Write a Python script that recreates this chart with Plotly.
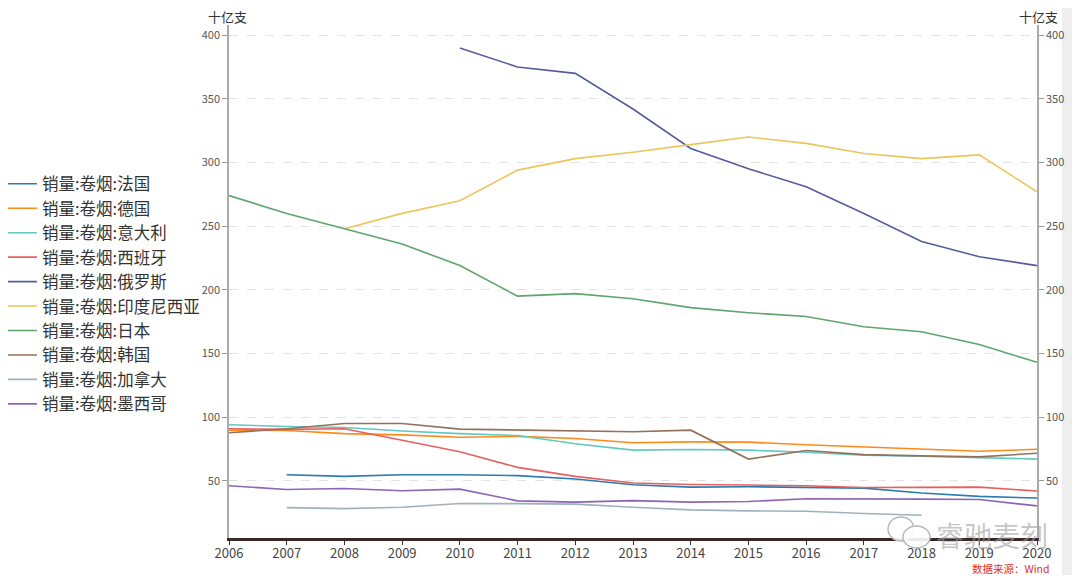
import plotly.graph_objects as go

years = list(range(2006, 2021))

france    = [None, 54.7, 53.4, 54.7, 54.7, 54.0, 51.3, 46.8, 45.0, 45.3, 44.5, 44.2, 40.3, 37.7, 36.4]
germany   = [89.7, 89.5, 87.0, 86.0, 84.2, 84.8, 83.2, 79.8, 80.5, 80.3, 78.2, 76.6, 75.0, 73.1, 74.7]
italy     = [94.0, 92.6, 91.8, 89.0, 87.0, 85.5, 79.0, 74.0, 74.5, 74.0, 72.4, 70.0, 69.2, 68.2, 67.0]
spain     = [90.8, 90.3, 90.8, 81.6, 72.7, 60.5, 53.4, 48.2, 47.0, 46.6, 46.0, 44.7, 44.7, 45.0, 41.9]
russia    = [None, None, None, None, 390, 375, 370, 342, 311, 295, 281, 260, 238, 226, 219]
indonesia = [None, None, 248, 260, 270, 294, 303, 308, 314, 320, 315, 307, 303, 306, 277]
japan     = [274, 260, 248, 236, 219, 195, 197, 193, 186, 182, 179, 171, 167, 157, 143]
korea     = [87.7, 90.8, 95.0, 95.0, 90.5, 90.0, 89.0, 88.5, 89.7, 67.0, 73.7, 70.5, 69.5, 68.7, 71.6]
canada    = [None, 28.9, 28.1, 29.2, 32.1, 32.0, 31.6, 29.2, 27.1, 26.3, 26.0, 24.2, 22.9, None, None]
mexico    = [46.0, 43.1, 43.9, 42.1, 43.4, 34.2, 33.2, 34.4, 33.2, 33.7, 35.8, 35.8, 35.5, 35.2, 30.2]

names = ["销量:卷烟:法国", "销量:卷烟:德国", "销量:卷烟:意大利", "销量:卷烟:西班牙", "销量:卷烟:俄罗斯",
         "销量:卷烟:印度尼西亚", "销量:卷烟:日本", "销量:卷烟:韩国", "销量:卷烟:加拿大", "销量:卷烟:墨西哥"]
series = [france, germany, italy, spain, russia, indonesia, japan, korea, canada, mexico]
colors = ["#2b7bb1", "#ff8a1c", "#62c8c2", "#e8605e", "#535d9a", "#e9c75a", "#5ea56e", "#95705a", "#9fb1bd", "#8e64b6"]

FONT = "Noto Sans CJK SC"

fig = go.Figure()
for i, (n, s, c) in enumerate(zip(names, series, colors)):
    fig.add_trace(go.Scatter(x=years, y=s, name=n, mode="lines",
                             line=dict(color=c, width=1.6), connectgaps=False))
# mirror trace for the right axis (invisible)
fig.add_trace(go.Scatter(x=years, y=japan, yaxis="y2", mode="lines", line=dict(width=0),
                         opacity=0, showlegend=False, hoverinfo="skip"))

yr = [5, 408]
tickvals = [50, 100, 150, 200, 250, 300, 350, 400]
axis_common = dict(range=yr, tickvals=tickvals, ticks="outside", ticklen=5, tickcolor="#999",
                   showline=True, linecolor="#aaa", linewidth=1.5,
                   tickfont=dict(family=FONT, size=11, color="#555"), zeroline=False)

fig.update_layout(
    width=1064, height=567,
    paper_bgcolor="white", plot_bgcolor="white",
    margin=dict(l=221, r=35, t=17, b=37, autoexpand=False),
    font=dict(family=FONT, color="#333"),
    xaxis=dict(range=[2006, 2020], tickvals=years, ticks="outside", ticklen=4, tickcolor="#333",
               showline=True, linecolor="#3a2828", linewidth=2.5, showgrid=False, zeroline=False,
               ticklabelstandoff=-2,
               tickfont=dict(family=FONT, size=13, color="#444")),
    yaxis=dict(**axis_common, showgrid=True, gridcolor="#e3e3e3", griddash="dash", gridwidth=1),
    yaxis2=dict(**axis_common, overlaying="y", side="right", showgrid=False),
    legend=dict(x=-0.281, xanchor="left", y=0.724, yanchor="top",
                font=dict(family=FONT, size=16.5, color="#333"),
                bgcolor="rgba(0,0,0,0)", itemwidth=30, tracegroupgap=0),
    showlegend=True,
)

fig.add_annotation(text="十亿支", xref="paper", yref="paper", x=-0.002, y=1.0, yshift=9,
                   xanchor="center", yanchor="middle", showarrow=False,
                   font=dict(family=FONT, size=13, color="#333"))
fig.add_annotation(text="十亿支", xref="paper", yref="paper", x=1.002, y=1.0, yshift=9,
                   xanchor="center", yanchor="middle", showarrow=False,
                   font=dict(family=FONT, size=13, color="#333"))
fig.add_annotation(text="数据来源：Wind", xref="paper", yref="paper", x=1.0185, y=0, yshift=-30,
                   xanchor="right", yanchor="middle", showarrow=False,
                   font=dict(family=FONT, size=10.5, color="#e03030"))

# watermark: bubble icon + text
fig.add_shape(type="circle", xref="paper", yref="paper", x0=(888-229)/808, x1=(914-229)/808,
              y0=(538-541)/513, y1=(538-517)/513, line=dict(color="#b8b8b8", width=1.5),
              fillcolor="rgba(255,255,255,0.9)")
fig.add_shape(type="circle", xref="paper", yref="paper", x0=(903-229)/808, x1=(930-229)/808,
              y0=(538-548)/513, y1=(538-526)/513, line=dict(color="#b8b8b8", width=1.5),
              fillcolor="rgba(255,255,255,0.9)")
fig.add_annotation(text="睿驰麦刻", xref="paper", yref="paper", x=(992-229)/808, y=(538-535)/513,
                   xanchor="center", yanchor="middle", showarrow=False,
                   font=dict(family=FONT, size=28, color="rgba(160,160,160,0.6)"))

# right-side grey strip
fig.add_shape(type="rect", xref="paper", yref="paper", x0=(1062-229)/808, x1=1.07, y0=-0.1, y1=1.05,
              fillcolor="#eeeeee", line=dict(width=0), layer="below")

fig.write_html("out.html")
